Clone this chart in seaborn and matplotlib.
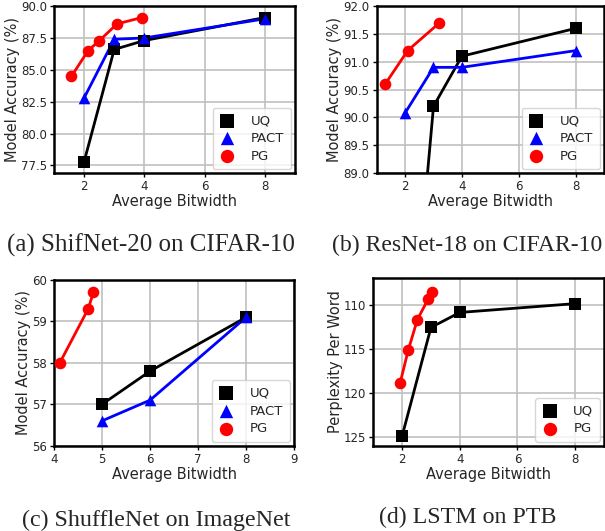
import numpy as np
import pandas as pd
import matplotlib
matplotlib.use("Agg")
import matplotlib.pyplot as plt
import seaborn as sns

sns.set_style("whitegrid")
plt.rcParams['font.family'] = ['DejaVu Sans']

# (a) ShifNet-20 on CIFAR-10
a_uq_x = [2, 3, 4, 8]
a_uq_y = [77.8, 86.6, 87.3, 89.1]
a_pact_x = [2, 3, 4, 8]
a_pact_y = [82.8, 87.4, 87.5, 89.0]
a_pg_x = [1.58, 2.13, 2.51, 3.09, 3.91]
a_pg_y = [84.5, 86.5, 87.3, 88.6, 89.1]

# (b) ResNet-18 on CIFAR-10
b_uq_x = [2, 3, 4, 8]
b_uq_y = [84.5, 90.2, 91.1, 91.6]
b_pact_x = [2, 3, 4, 8]
b_pact_y = [90.08, 90.9, 90.9, 91.2]
b_pg_x = [1.3, 2.09, 3.21]
b_pg_y = [90.6, 91.2, 91.7]

# (c) ShuffleNet on ImageNet
c_uq_x = [5, 6, 8]
c_uq_y = [57.0, 57.8, 59.1]
c_pact_x = [5, 6, 8]
c_pact_y = [56.6, 57.1, 59.1]
c_pg_x = [4.12, 4.71, 4.82]
c_pg_y = [58.0, 59.3, 59.7]

# (d) LSTM on PTB
d_uq_x = [2, 3, 4, 8]
d_uq_y = [124.9, 112.6, 110.9, 109.9]
d_pg_x = [1.93, 2.21, 2.53, 2.9, 3.03]
d_pg_y = [118.9, 115.2, 111.7, 109.4, 108.6]

styles = {"UQ": ("black", "s"), "PACT": ("blue", "^"), "PG": ("red", "o")}


def draw(ax, series, xlim, ylim, xticks, yticks, ylabel, caption, cx, cy, csize):
    for name, xs, ys in series:
        col, mk = styles[name]
        df = pd.DataFrame({"x": xs, "y": ys})
        sns.lineplot(data=df, x="x", y="y", ax=ax, color=col, lw=2,
                     sort=False, estimator=None)
        sns.scatterplot(data=df, x="x", y="y", ax=ax, color=col, marker=mk,
                        s=70, edgecolor=col, linewidth=0, label=name, zorder=3)
    ax.set_xlim(*xlim)
    ax.set_ylim(*ylim)
    ax.set_xticks(xticks)
    ax.set_yticks(yticks)
    ax.grid(True, color="#c0c0c0", lw=1.2)
    for s in ax.spines.values():
        s.set_color("black")
        s.set_linewidth(1.8)
    ax.tick_params(labelsize=8.5, length=3, width=1, color="black",
                   bottom=True, left=True, pad=2)
    ax.set_xlabel("Average Bitwidth", fontsize=10.5, labelpad=1)
    ax.set_ylabel(ylabel, fontsize=10.5, labelpad=1)
    ax.legend(loc="lower right", fontsize=9.5, markerscale=1.15,
              handletextpad=1.2, borderpad=0.5, labelspacing=0.35,
              handlelength=1.2, borderaxespad=0.3)
    fig.text(cx, cy, caption, ha="center", va="center",
             family="Liberation Serif", fontsize=csize)


fig = plt.figure(figsize=(6.05, 5.31), dpi=100)

ax_a = fig.add_axes([0.0893, 0.674, 0.398, 0.3145])
draw(ax_a, [("UQ", a_uq_x, a_uq_y), ("PACT", a_pact_x, a_pact_y), ("PG", a_pg_x, a_pg_y)],
     (1, 9), (76.9, 90), [2, 4, 6, 8], [77.5, 80.0, 82.5, 85.0, 87.5, 90.0],
     "Model Accuracy (%)", "(a) ShifNet-20 on CIFAR-10", 151 / 605, 1 - 245 / 531, 18)
ax_a.yaxis.set_major_formatter(matplotlib.ticker.FormatStrFormatter("%.1f"))

ax_b = fig.add_axes([0.6226, 0.674, 0.3757, 0.3145])
draw(ax_b, [("UQ", b_uq_x, b_uq_y), ("PACT", b_pact_x, b_pact_y), ("PG", b_pg_x, b_pg_y)],
     (1, 9), (89, 92), [2, 4, 6, 8], [89.0, 89.5, 90.0, 90.5, 91.0, 91.5, 92.0],
     "Model Accuracy (%)", "(b) ResNet-18 on CIFAR-10", 467 / 605, 1 - 245 / 531, 17.1)
ax_b.yaxis.set_major_formatter(matplotlib.ticker.FormatStrFormatter("%.1f"))

ax_c = fig.add_axes([0.0893, 0.1606, 0.3967, 0.312])
draw(ax_c, [("UQ", c_uq_x, c_uq_y), ("PACT", c_pact_x, c_pact_y), ("PG", c_pg_x, c_pg_y)],
     (4, 9), (56, 60), [4, 5, 6, 7, 8, 9], [56, 57, 58, 59, 60],
     "Model Accuracy (%)", "(c) ShuffleNet on ImageNet", 156 / 605, 1 - 520 / 531, 17.3)

ax_d = fig.add_axes([0.617, 0.1606, 0.3813, 0.3158])
draw(ax_d, [("UQ", d_uq_x, d_uq_y), ("PG", d_pg_x, d_pg_y)],
     (1, 9), (126, 107), [2, 4, 6, 8], [110, 115, 120, 125],
     "Perplexity Per Word", "(d) LSTM on PTB", 468 / 605, 1 - 517 / 531, 17.2)

fig.savefig("out.png", dpi=100)
